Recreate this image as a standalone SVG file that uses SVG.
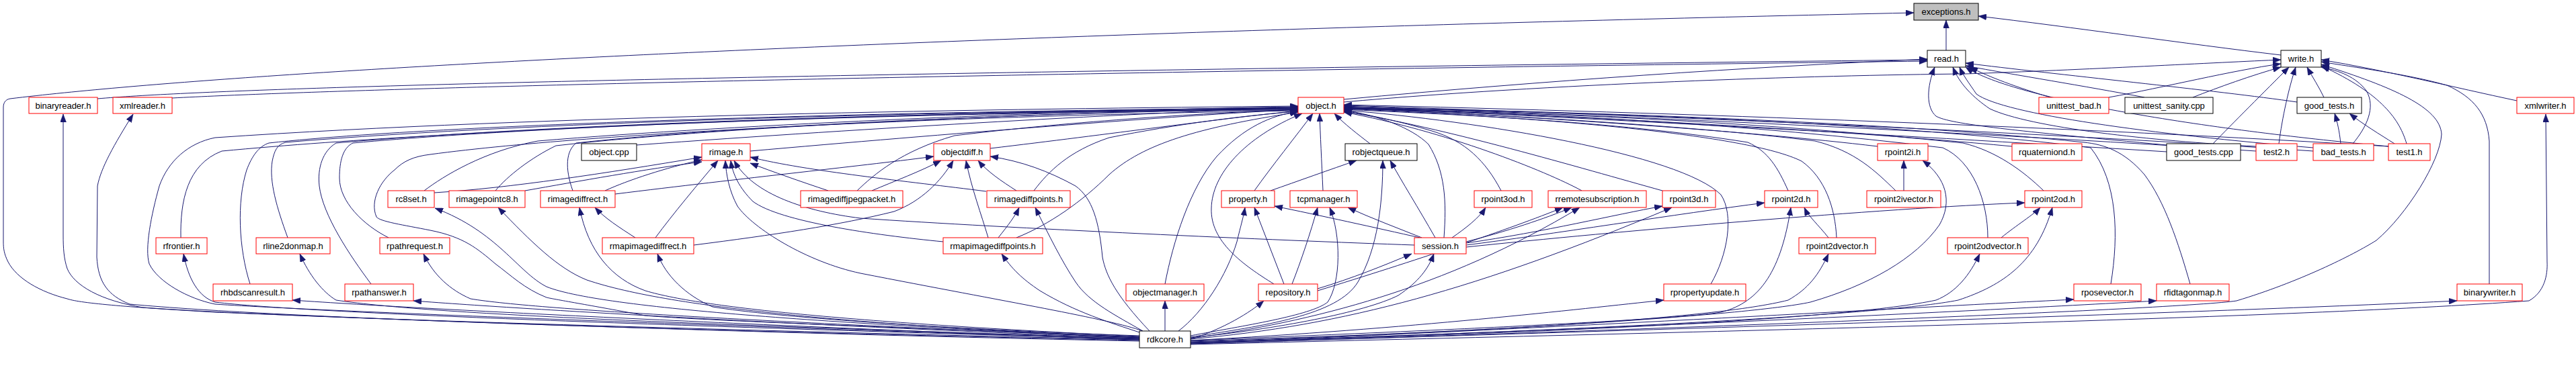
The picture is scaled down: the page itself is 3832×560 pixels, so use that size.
<svg xmlns="http://www.w3.org/2000/svg" width="3832" height="560" viewBox="0 0 3832 560">
<style>
rect{fill:#fff;stroke-width:1}
.r rect{stroke:#ff0000}
.k rect{stroke:#000}
.g rect{stroke:#000;fill:#bfbfbf}
text{font-family:"Liberation Sans",Arial,Helvetica,sans-serif;font-size:13px;text-anchor:middle;fill:#000}
#edges path{fill:none;stroke:#191970;stroke-width:1;marker-end:url(#a)}
</style>
<defs>
<marker id="a" viewBox="0 0 12 9" refX="12" refY="4.5" markerWidth="12" markerHeight="9" markerUnits="userSpaceOnUse" orient="auto">
<path d="M0,0L12,4.5L0,9z" fill="#191970" stroke="#191970" stroke-width="0.5"/>
</marker>
</defs>
<rect x="0" y="0" width="3832" height="560" style="fill:#fff;stroke:none"/>
<g id="edges">
<path d="M2895,75 L2895,30"/>
<path d="M3393,82 C3250,65 3080,40 2943,24"/>
<path d="M1695,508 C1000,494 450,470 320,465 C200,458 120,452 100,445 C60,435 25,415 12,390 C6,378 5,370 5,360 L5,160 C5,152 9,148 15,147 C400,100 1500,48 2847,19"/>
<path d="M1695,506 C1000,490 400,472 213,458 C150,448 110,425 100,400 C95,385 94,370 94,350 L94,170"/>
<path d="M1695,507 C1000,492 420,474 193,453 C160,440 146,420 144,383 L145,277 C150,250 170,215 198,170"/>
<path d="M1695,505 C1200,490 500,465 320,453 C280,445 235,420 222,393 C215,370 225,320 237,277 C250,240 280,213 320,205 C800,172 1500,162 1931,158"/>
<path d="M1695,505 C1000,486 450,466 320,450 C295,442 280,415 273,378"/>
<path d="M269,354 C268,300 278,245 330,225 C700,190 1400,166 1931,160"/>
<path d="M1695,506 C1200,488 650,462 435,447"/>
<path d="M372,423 C355,370 352,300 367,253 C375,232 385,218 400,213 C700,180 1500,163 1931,161"/>
<path d="M1695,504 C1100,485 650,470 500,447 C480,435 460,410 446,378"/>
<path d="M428,354 C412,310 400,270 405,240 C408,225 412,215 425,212 C800,180 1500,163 1931,162"/>
<path d="M1695,504 C1200,485 800,462 615,448"/>
<path d="M552,423 C520,380 480,320 475,277 C472,250 480,225 500,213 C850,182 1500,164 1931,163"/>
<path d="M1695,503 C1200,482 800,462 700,445 C670,432 645,410 630,378"/>
<path d="M578,354 C540,335 505,300 505,265 C505,240 510,220 525,213 C850,183 1500,165 1931,164"/>
<path d="M1695,502 C1400,490 1050,478 960,470 C880,455 820,445 813,443 C780,430 760,410 737,393 C710,370 690,353 640,343 C600,335 565,330 560,323 C550,300 565,270 587,253 C600,240 615,233 640,230 C900,195 1500,170 1931,165"/>
<path d="M1695,503 C1300,485 900,462 813,427 C770,405 740,345 647,310"/>
<path d="M1695,502 C1300,486 1000,460 873,417 C830,400 790,360 741,309"/>
<path d="M1695,501 C1300,482 1050,460 960,433 C910,415 875,375 862,309"/>
<path d="M1695,500 C1400,490 1150,472 1060,457 C1020,440 990,410 978,378"/>
<path d="M945,354 C920,338 900,325 885,309"/>
<path d="M852,284 C840,250 842,225 857,213 C1100,186 1600,166 1931,162"/>
<path d="M975,354 C1000,320 1040,272 1068,239"/>
<path d="M900,284 C935,268 990,250 1044,238"/>
<path d="M915,289 C1100,266 1300,245 1389,233"/>
<path d="M646,287 C760,280 900,258 1044,234"/>
<path d="M781,284 C860,270 960,252 1044,241"/>
<path d="M737,284 C755,262 790,235 827,217 C1100,186 1600,166 1931,161"/>
<path d="M631,284 C660,262 720,225 800,210 C1100,185 1600,164 1931,159"/>
<path d="M947,216 C1300,190 1700,168 1931,160"/>
<path d="M1116,225 C1400,200 1750,172 1931,163"/>
<path d="M1473,221 C1650,200 1820,176 1931,165"/>
<path d="M1232,284 C1190,270 1150,256 1116,243"/>
<path d="M1297,284 C1330,270 1370,255 1400,239"/>
<path d="M1275,284 C1300,260 1340,225 1420,202 C1600,180 1800,168 1931,163"/>
<path d="M1467,285 C1350,270 1200,255 1116,234"/>
<path d="M1512,284 C1490,270 1468,255 1455,239"/>
<path d="M1538,284 C1560,255 1590,225 1650,205 C1750,185 1850,172 1931,166"/>
<path d="M1485,354 C1500,335 1510,322 1516,309"/>
<path d="M1470,354 C1460,320 1445,280 1437,239"/>
<path d="M1403,360 C1300,350 1160,330 1120,300 C1100,280 1090,260 1087,239"/>
<path d="M1512,354 C1560,335 1610,300 1650,260 C1700,215 1780,190 1931,167"/>
<path d="M1032,365 C1150,350 1250,335 1330,315 C1370,300 1400,270 1418,239"/>
<path d="M1700,493 C1650,475 1500,450 1280,407 C1200,390 1120,340 1097,307 C1085,285 1080,260 1079,239"/>
<path d="M2104,365 C1900,358 1500,340 1280,325 C1200,315 1120,290 1092,239"/>
<path d="M1710,493 C1660,440 1645,410 1640,383 C1635,330 1625,295 1600,277 C1560,255 1520,240 1473,233"/>
<path d="M1700,493 C1660,470 1620,450 1600,420 C1580,390 1560,350 1540,309"/>
<path d="M1698,496 C1650,480 1600,465 1547,433 C1520,415 1505,400 1490,378"/>
<path d="M1733,493 L1733,448"/>
<path d="M1733,423 C1745,360 1770,280 1810,233 C1850,190 1890,172 1931,166"/>
<path d="M1753,493 C1790,465 1825,410 1840,360 C1846,335 1850,322 1852,309"/>
<path d="M1910,423 L1866,309"/>
<path d="M1895,423 C1850,395 1800,360 1802,310 C1803,260 1850,205 1937,169"/>
<path d="M1866,284 C1890,250 1930,200 1953,169"/>
<path d="M1890,284 C1930,270 1980,252 2018,239"/>
<path d="M1968,284 C1966,240 1964,200 1963,169"/>
<path d="M2112,354 C2050,340 1960,320 1896,307"/>
<path d="M2115,354 C2080,340 2040,325 2005,309"/>
<path d="M1922,423 C1935,390 1950,345 1960,309"/>
<path d="M1771,500 C1850,485 1950,470 1975,450 C1995,420 1995,350 1978,309"/>
<path d="M1771,502 C1880,485 1990,470 2020,420 C2050,370 2057,300 2057,239"/>
<path d="M2135,354 C2110,310 2085,270 2068,239"/>
<path d="M2038,214 C2020,200 2000,185 1985,169"/>
<path d="M2148,354 C2152,300 2150,255 2125,215 C2100,190 2050,172 1999,164"/>
<path d="M1960,430 C2010,415 2060,395 2100,378"/>
<path d="M1771,503 C1900,490 2030,465 2080,440 C2110,420 2125,400 2133,378"/>
<path d="M1771,505 C1820,490 1860,465 1880,448"/>
<path d="M1960,433 C2100,390 2250,340 2325,309"/>
<path d="M2181,360 C2240,345 2300,325 2338,309"/>
<path d="M2160,354 C2180,340 2200,325 2210,309"/>
<path d="M2181,362 C2300,345 2400,320 2473,307"/>
<path d="M2181,365 C2300,350 2500,318 2625,302"/>
<path d="M2181,368 C2400,345 2800,310 3012,302"/>
<path d="M1771,504 C1950,480 2150,430 2350,309"/>
<path d="M1771,505 C2000,485 2200,430 2487,309"/>
<path d="M2353,284 C2300,255 2150,195 1999,167"/>
<path d="M2473,284 C2350,250 2150,190 1999,166"/>
<path d="M2233,284 C2210,240 2180,210 2130,195 C2080,180 2040,172 1999,165"/>
<path d="M2545,423 C2570,380 2580,320 2560,290 C2500,230 2200,180 1999,164"/>
<path d="M1771,507 C2100,490 2350,460 2475,447"/>
<path d="M2660,284 C2645,250 2630,225 2600,212 C2400,180 2150,170 1999,163"/>
<path d="M2720,354 C2705,335 2690,322 2684,309"/>
<path d="M2732,354 C2730,310 2715,265 2680,240 C2600,200 2300,175 1999,162"/>
<path d="M1771,507 C2200,490 2500,475 2560,465 C2620,450 2650,400 2664,309"/>
<path d="M1771,508 C2200,495 2550,475 2660,447 C2690,430 2705,410 2720,378"/>
<path d="M2832,284 L2832,239"/>
<path d="M2820,284 C2790,255 2760,225 2700,210 C2500,185 2200,170 1999,161"/>
<path d="M2793,218 C2600,195 2300,175 1999,160"/>
<path d="M1771,509 C2200,495 2600,470 2693,450 C2780,425 2850,385 2885,335 C2905,300 2895,265 2860,239"/>
<path d="M2993,218 C2700,190 2300,172 1999,159"/>
<path d="M3040,284 C3010,255 2970,225 2920,213 C2600,180 2300,168 1999,161"/>
<path d="M2977,354 C3000,335 3025,320 3035,309"/>
<path d="M2957,354 C2957,300 2935,240 2890,220 C2600,185 2300,168 1999,162"/>
<path d="M1771,510 C2300,495 2800,470 2913,447 C2980,425 3030,390 3053,309"/>
<path d="M1771,510 C2300,497 2750,475 2880,447 C2910,435 2930,410 2945,378"/>
<path d="M1771,511 C2300,490 2800,460 3085,446"/>
<path d="M3140,423 C3152,350 3150,270 3110,220 C2800,180 2300,165 1999,161"/>
<path d="M3258,423 C3240,360 3220,300 3190,260 C3160,225 3130,215 3100,212 C2800,180 2300,165 1999,160"/>
<path d="M1771,511 C2400,490 2900,465 3208,448"/>
<path d="M1771,512 C2500,490 3300,465 3655,448"/>
<path d="M1771,513 C2500,495 3400,475 3762,448 C3785,435 3790,410 3789,390 L3787,170"/>
<path d="M1771,512 C2500,490 3250,460 3327,448 C3420,420 3500,380 3535,358 C3580,320 3630,240 3632,200 C3630,160 3560,130 3453,96"/>
<path d="M3703,423 L3703,210 C3700,170 3680,145 3640,127 C3580,110 3500,100 3453,92"/>
<path d="M3744,150 C3650,130 3550,105 3453,89"/>
<path d="M3580,214 C3570,180 3545,140 3453,98"/>
<path d="M3500,214 C3520,190 3535,160 3520,135 C3505,115 3480,105 3453,100"/>
<path d="M3482,214 C3480,195 3477,182 3473,169"/>
<path d="M3562,214 C3540,200 3515,185 3495,169"/>
<path d="M3457,145 C3450,130 3440,115 3432,100"/>
<path d="M3390,214 C3395,175 3405,130 3415,100"/>
<path d="M3292,214 C3320,185 3370,135 3405,100"/>
<path d="M3262,145 C3300,130 3350,112 3393,100"/>
<path d="M3137,145 C3220,130 3320,105 3393,95"/>
<path d="M1999,152 C2300,125 2700,112 2924,110 C3100,104 3300,93 3393,89"/>
<path d="M1999,148 C2300,120 2600,100 2867,88"/>
<path d="M145,147 C400,125 1500,105 2867,89"/>
<path d="M256,146 C600,128 1600,107 2867,91"/>
<path d="M3050,145 C3000,130 2960,115 2930,100"/>
<path d="M3190,145 C3100,128 3000,112 2924,98"/>
<path d="M3417,152 C3300,135 3050,110 2924,94"/>
<path d="M3223,216 C3000,195 2900,185 2880,173 C2865,160 2866,130 2878,100"/>
<path d="M3356,218 C3200,210 3020,190 2960,162 C2935,145 2915,125 2905,100"/>
<path d="M3441,220 C3200,200 2980,170 2940,140 C2930,125 2920,112 2915,100"/>
<path d="M3553,218 C3300,195 3000,150 2924,100"/>
<path d="M3223,226 C2800,200 2300,172 1999,160"/>
<path d="M3356,225 C2900,195 2400,172 1999,158"/>
<path d="M3441,225 C3000,195 2400,170 1999,157"/>
<path d="M3553,218 C3100,190 2500,168 1999,156"/>
</g>
<g id="exceptions_h" class="g"><rect x="2847" y="5" width="96" height="25"/><text x="2895" y="22">exceptions.h</text></g>
<g id="read_h" class="k"><rect x="2867" y="75" width="57" height="25"/><text x="2895.5" y="92">read.h</text></g>
<g id="write_h" class="k"><rect x="3393" y="75" width="60" height="25"/><text x="3423" y="92">write.h</text></g>
<g id="binaryreader_h" class="r"><rect x="43" y="145" width="102" height="24"/><text x="94" y="162">binaryreader.h</text></g>
<g id="xmlreader_h" class="r"><rect x="168" y="145" width="88" height="24"/><text x="212" y="162">xmlreader.h</text></g>
<g id="object_h" class="r"><rect x="1931" y="145" width="68" height="24"/><text x="1965" y="162">object.h</text></g>
<g id="unittest_bad_h" class="r"><rect x="3033" y="145" width="104" height="24"/><text x="3085" y="162">unittest_bad.h</text></g>
<g id="unittest_sanity_cpp" class="k"><rect x="3161" y="145" width="131" height="24"/><text x="3226.5" y="162">unittest_sanity.cpp</text></g>
<g id="good_tests_h" class="k"><rect x="3417" y="145" width="96" height="24"/><text x="3465" y="162">good_tests.h</text></g>
<g id="xmlwriter_h" class="r"><rect x="3744" y="145" width="85" height="24"/><text x="3786.5" y="162">xmlwriter.h</text></g>
<g id="object_cpp" class="k"><rect x="865" y="214" width="82" height="25"/><text x="906" y="231">object.cpp</text></g>
<g id="rimage_h" class="r"><rect x="1044" y="214" width="72" height="25"/><text x="1080" y="231">rimage.h</text></g>
<g id="objectdiff_h" class="r"><rect x="1389" y="214" width="84" height="25"/><text x="1431" y="231">objectdiff.h</text></g>
<g id="robjectqueue_h" class="k"><rect x="2001" y="214" width="107" height="25"/><text x="2054.5" y="231">robjectqueue.h</text></g>
<g id="rpoint2i_h" class="r"><rect x="2793" y="214" width="75" height="25"/><text x="2830.5" y="231">rpoint2i.h</text></g>
<g id="rquaterniond_h" class="r"><rect x="2993" y="214" width="104" height="25"/><text x="3045" y="231">rquaterniond.h</text></g>
<g id="good_tests_cpp" class="k"><rect x="3223" y="214" width="110" height="25"/><text x="3278" y="231">good_tests.cpp</text></g>
<g id="test2_h" class="r"><rect x="3356" y="214" width="61" height="25"/><text x="3386.5" y="231">test2.h</text></g>
<g id="bad_tests_h" class="r"><rect x="3441" y="214" width="90" height="25"/><text x="3486" y="231">bad_tests.h</text></g>
<g id="test1_h" class="r"><rect x="3553" y="214" width="62" height="25"/><text x="3584" y="231">test1.h</text></g>
<g id="rc8set_h" class="r"><rect x="577" y="284" width="69" height="25"/><text x="611.5" y="301">rc8set.h</text></g>
<g id="rimagepointc8_h" class="r"><rect x="668" y="284" width="113" height="25"/><text x="724.5" y="301">rimagepointc8.h</text></g>
<g id="rimagediffrect_h" class="r"><rect x="804" y="284" width="111" height="25"/><text x="859.5" y="301">rimagediffrect.h</text></g>
<g id="rimagediffjpegpacket_h" class="r"><rect x="1191" y="284" width="152" height="25"/><text x="1267" y="301">rimagediffjpegpacket.h</text></g>
<g id="rimagediffpoints_h" class="r"><rect x="1468" y="284" width="124" height="25"/><text x="1530" y="301">rimagediffpoints.h</text></g>
<g id="property_h" class="r"><rect x="1817" y="284" width="79" height="25"/><text x="1856.5" y="301">property.h</text></g>
<g id="tcpmanager_h" class="r"><rect x="1919" y="284" width="100" height="25"/><text x="1969" y="301">tcpmanager.h</text></g>
<g id="rpoint3od_h" class="r"><rect x="2193" y="284" width="86" height="25"/><text x="2236" y="301">rpoint3od.h</text></g>
<g id="rremotesubscription_h" class="r"><rect x="2303" y="284" width="146" height="25"/><text x="2376" y="301">rremotesubscription.h</text></g>
<g id="rpoint3d_h" class="r"><rect x="2473" y="284" width="79" height="25"/><text x="2512.5" y="301">rpoint3d.h</text></g>
<g id="rpoint2d_h" class="r"><rect x="2625" y="284" width="79" height="25"/><text x="2664.5" y="301">rpoint2d.h</text></g>
<g id="rpoint2ivector_h" class="r"><rect x="2777" y="284" width="110" height="25"/><text x="2832" y="301">rpoint2ivector.h</text></g>
<g id="rpoint2od_h" class="r"><rect x="3012" y="284" width="85" height="25"/><text x="3054.5" y="301">rpoint2od.h</text></g>
<g id="rfrontier_h" class="r"><rect x="232" y="354" width="76" height="24"/><text x="270" y="371">rfrontier.h</text></g>
<g id="rline2donmap_h" class="r"><rect x="381" y="354" width="110" height="24"/><text x="436" y="371">rline2donmap.h</text></g>
<g id="rpathrequest_h" class="r"><rect x="565" y="354" width="104" height="24"/><text x="617" y="371">rpathrequest.h</text></g>
<g id="rmapimagediffrect_h" class="r"><rect x="896" y="354" width="136" height="24"/><text x="964" y="371">rmapimagediffrect.h</text></g>
<g id="rmapimagediffpoints_h" class="r"><rect x="1403" y="354" width="148" height="24"/><text x="1477" y="371">rmapimagediffpoints.h</text></g>
<g id="session_h" class="r"><rect x="2104" y="354" width="77" height="24"/><text x="2142.5" y="371">session.h</text></g>
<g id="rpoint2dvector_h" class="r"><rect x="2676" y="354" width="114" height="24"/><text x="2733" y="371">rpoint2dvector.h</text></g>
<g id="rpoint2odvector_h" class="r"><rect x="2897" y="354" width="120" height="24"/><text x="2957" y="371">rpoint2odvector.h</text></g>
<g id="rhbdscanresult_h" class="r"><rect x="317" y="423" width="118" height="25"/><text x="376" y="440">rhbdscanresult.h</text></g>
<g id="rpathanswer_h" class="r"><rect x="513" y="423" width="102" height="25"/><text x="564" y="440">rpathanswer.h</text></g>
<g id="objectmanager_h" class="r"><rect x="1675" y="423" width="116" height="25"/><text x="1733" y="440">objectmanager.h</text></g>
<g id="repository_h" class="r"><rect x="1872" y="423" width="88" height="25"/><text x="1916" y="440">repository.h</text></g>
<g id="rpropertyupdate_h" class="r"><rect x="2475" y="423" width="122" height="25"/><text x="2536" y="440">rpropertyupdate.h</text></g>
<g id="rposevector_h" class="r"><rect x="3085" y="423" width="100" height="25"/><text x="3135" y="440">rposevector.h</text></g>
<g id="rfidtagonmap_h" class="r"><rect x="3208" y="423" width="108" height="25"/><text x="3262" y="440">rfidtagonmap.h</text></g>
<g id="binarywriter_h" class="r"><rect x="3655" y="423" width="97" height="25"/><text x="3703.5" y="440">binarywriter.h</text></g>
<g id="rdkcore_h" class="k"><rect x="1695" y="493" width="76" height="25"/><text x="1733" y="510">rdkcore.h</text></g>
</svg>
